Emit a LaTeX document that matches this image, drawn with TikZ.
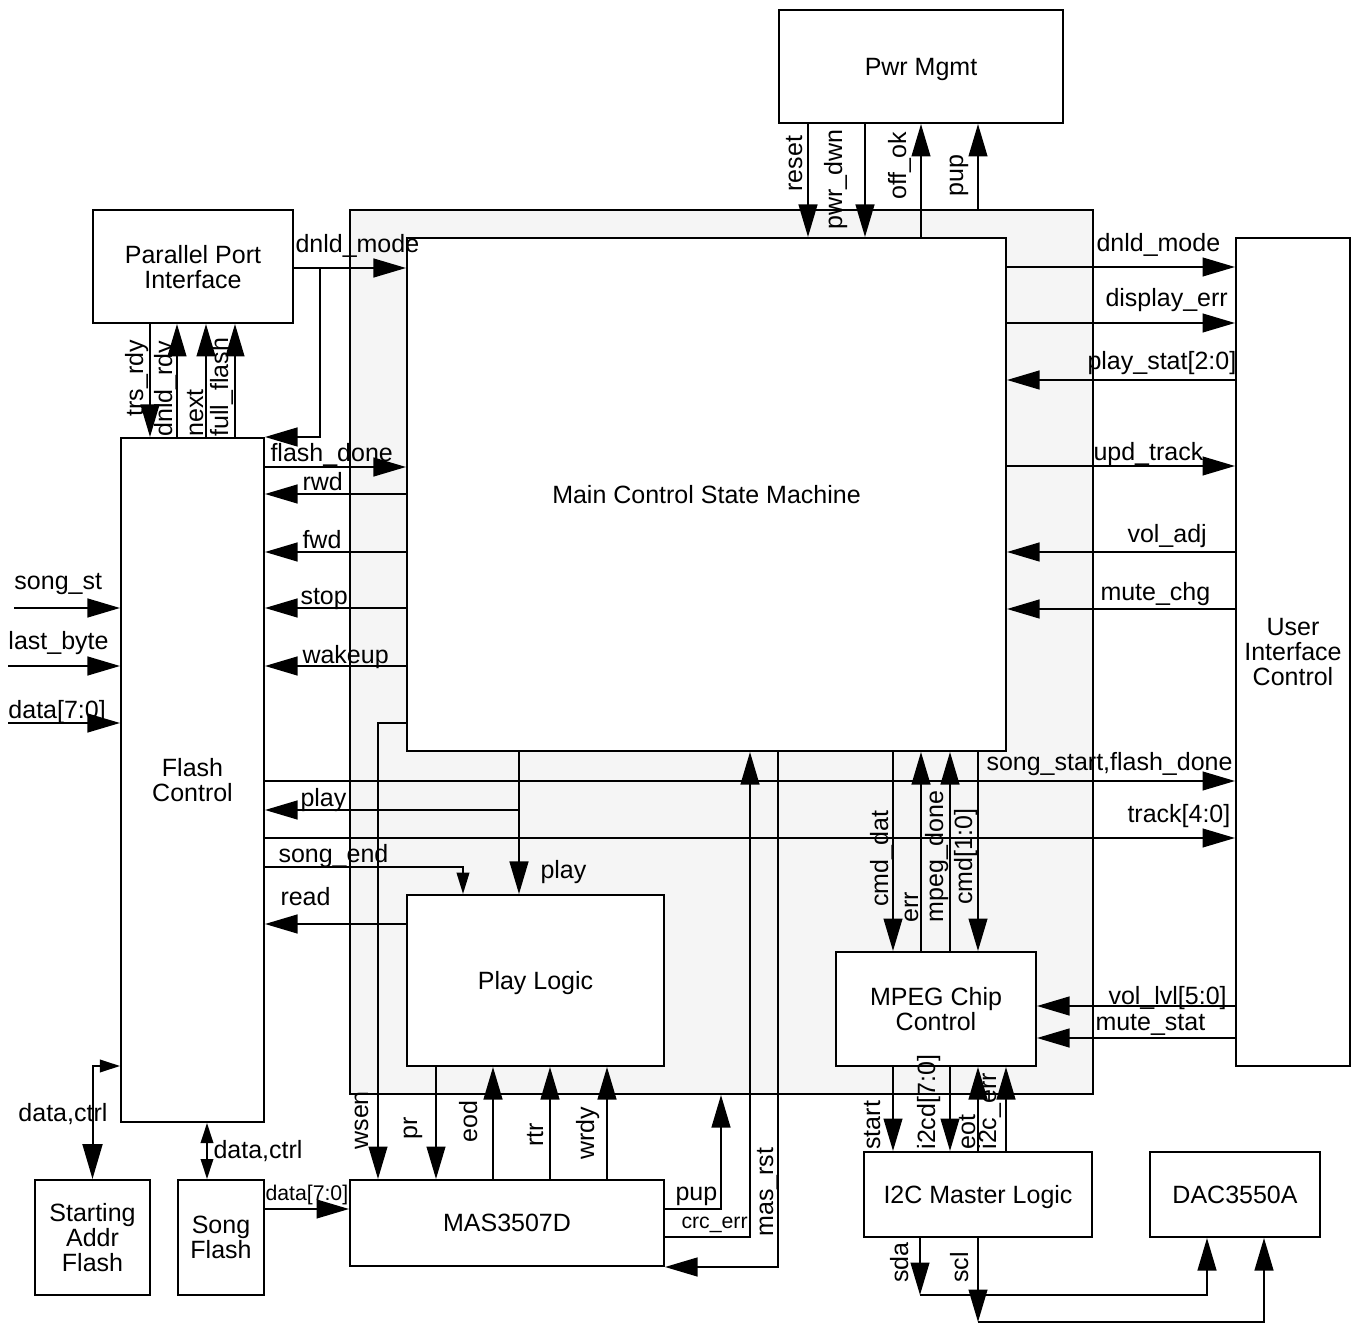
\documentclass[tikz,border=0pt]{standalone}
\usepackage{fontspec}
\setmainfont{Liberation Sans}
\usetikzlibrary{arrows.meta, calc}

\begin{document}
\begin{tikzpicture}[x=0.4pt, y=-0.4pt,
                    font=\fontsize{10pt}{10pt}\selectfont,
                    block/.style={draw, thick, fill=white, align=center, inner sep=0pt, text depth=0pt},
                    sig/.style={->, >={Triangle[length=13pt, width=7.5pt]}, thick},
                    small_sig/.style={->, >={Triangle[length=8.5pt, width=5pt]}, thick},
                    lbl/.style={inner sep=0pt, anchor=base west},
                    vlbl/.style={inner sep=0pt, anchor=base west, rotate=90},
                    small_lbl/.style={inner sep=0pt, anchor=base west, font=\fontsize{8.5pt}{8.5pt}\selectfont}]

            \useasboundingbox (0,0) rectangle (1354,1324);

            % blocks
            \node[block, fill=gray!8, minimum width=297.2pt, minimum height=353.6pt] (core) at (721.5,652) {};
            \node[block, minimum width=239.6pt, minimum height=205.2pt] (main) at (706.5,494.5) {Main Control State Machine};
            \node[block, minimum width=113.6pt, minimum height=45.2pt] (pwr) at (921,66.5) {Pwr Mgmt};
            \node[block, minimum width=80pt, minimum height=45.2pt] (ppi) at (193,266.5) {Parallel Port\\Interface};
            \node[block, minimum width=57.2pt, minimum height=273.6pt] (flash) at (192.5,780) {Flash\\Control};
            \node[block, minimum width=45.6pt, minimum height=331.2pt] (uic) at (1293,652) {User\\Interface\\Control};
            \node[block, minimum width=102.8pt, minimum height=68.4pt] (play) at (535.5,980.5) {Play Logic};
            \node[block, minimum width=80pt, minimum height=45.6pt] (mpeg) at (936,1009) {MPEG Chip\\Control};
            \node[block, minimum width=125.6pt, minimum height=34.4pt] (mas) at (507,1223) {MAS3507D};
            \node[block, minimum width=91.2pt, minimum height=34pt] (i2c) at (978,1194.5) {I2C Master Logic};
            \node[block, minimum width=68pt, minimum height=34pt] (dac) at (1235,1194.5) {DAC3550A};
            \node[block, minimum width=46pt, minimum height=46pt] (saf) at (92.5,1237.5) {Starting\\Addr\\Flash};
            \node[block, minimum width=34.4pt, minimum height=46pt] (sgf) at (221,1237.5) {Song\\Flash};

            \coordinate (brdnld) at (320,268);
            \coordinate (brplay) at (519,810);
            \coordinate (songst) at (14,608);
            \coordinate (lastbyte) at (8,666);
            \coordinate (datain) at (8,723);
            \coordinate (sdabus) at (920,1295);
            \coordinate (sclbus) at (978,1322);

            % power management
            \draw[sig] (pwr.south -| 808,0) -- (main.north -| 808,0);
            \draw[sig] (pwr.south -| 865,0) -- (main.north -| 865,0);
            \draw[sig] (main.north -| 921,0) -- (pwr.south -| 921,0);
            \draw[sig] (core.north -| 978,0) -- (pwr.south -| 978,0);

            % parallel port
            \draw[sig] (ppi.east |- brdnld) -- (main.west |- brdnld);
            \draw[sig] (brdnld) |- (flash.north east);
            \draw[sig] (ppi.south -| 150,0) -- (flash.north -| 150,0);
            \draw[sig] (flash.north -| 177,0) -- (ppi.south -| 177,0);
            \draw[sig] (flash.north -| 206,0) -- (ppi.south -| 206,0);
            \draw[sig] (flash.north -| 235,0) -- (ppi.south -| 235,0);

            % flash control <-> main
            \draw[sig] (flash.east |- 0,467) -- (main.west |- 0,467);
            \draw[sig] (main.west |- 0,494) -- (flash.east |- 0,494);
            \draw[sig] (main.west |- 0,552) -- (flash.east |- 0,552);
            \draw[sig] (main.west |- 0,608) -- (flash.east |- 0,608);
            \draw[sig] (main.west |- 0,666) -- (flash.east |- 0,666);
            \draw[sig] (songst) -- (flash.west |- songst);
            \draw[sig] (lastbyte) -- (flash.west |- lastbyte);
            \draw[sig] (datain) -- (flash.west |- datain);

            % play logic
            \draw[sig] (main.south -| brplay) -- (play.north -| brplay);
            \draw[sig] (brplay) -- (flash.east |- brplay);
            \draw[small_sig] (flash.east |- 0,867) -| (play.north -| 463,0);
            \draw[sig] (play.west |- 0,924) -- (flash.east |- 0,924);
            \draw[sig] (flash.east |- 0,781) -- (uic.west |- 0,781);
            \draw[sig] (flash.east |- 0,838) -- (uic.west |- 0,838);

            % MAS3507D
            \draw[sig] (main.west |- 0,723) -| (mas.north -| 378,0);
            \draw[sig] (play.south -| 436,0) -- (mas.north -| 436,0);
            \draw[sig] (mas.north -| 493,0) -- (play.south -| 493,0);
            \draw[sig] (mas.north -| 550,0) -- (play.south -| 550,0);
            \draw[sig] (mas.north -| 607,0) -- (play.south -| 607,0);
            \draw[sig] (mas.east |- 0,1209) -| (core.south -| 721,0);
            \draw[sig] (mas.east |- 0,1237) -| (main.south -| 750,0);
            \draw[sig] (main.south -| 778,0) |- (mas.south east);
            \draw[sig] (sgf.east |- 0,1209) -- (mas.west |- 0,1209);

            % flash memories
            \draw[thick, {Triangle[length=8pt, width=5pt]}-{Triangle[length=14pt, width=8pt]}] (flash.west |- 0,1066) -| (saf.north);
            \draw[thick, {Triangle[length=8pt, width=5pt]}-{Triangle[length=8pt, width=5pt]}] (flash.south -| 207,0) -- (sgf.north -| 207,0);

            % user interface
            \draw[sig] (main.east |- 0,267) -- (uic.west |- 0,267);
            \draw[sig] (main.east |- 0,323) -- (uic.west |- 0,323);
            \draw[sig] (uic.west |- 0,380) -- (main.east |- 0,380);
            \draw[sig] (main.east |- 0,466) -- (uic.west |- 0,466);
            \draw[sig] (uic.west |- 0,552) -- (main.east |- 0,552);
            \draw[sig] (uic.west |- 0,609) -- (main.east |- 0,609);

            % MPEG chip control
            \draw[sig] (main.south -| 893,0) -- (mpeg.north -| 893,0);
            \draw[sig] (mpeg.north -| 921,0) -- (main.south -| 921,0);
            \draw[sig] (mpeg.north -| 950,0) -- (main.south -| 950,0);
            \draw[sig] (main.south -| 978,0) -- (mpeg.north -| 978,0);
            \draw[sig] (uic.west |- 0,1006) -- (mpeg.east |- 0,1006);
            \draw[sig] (uic.west |- 0,1038) -- (mpeg.east |- 0,1038);

            % I2C
            \draw[sig] (mpeg.south -| 893,0) -- (i2c.north -| 893,0);
            \draw[sig] (mpeg.south -| 950,0) -- (i2c.north -| 950,0);
            \draw[sig] (i2c.north -| 978,0) -- (mpeg.south -| 978,0);
            \draw[sig] (i2c.north -| 1006,0) -- (mpeg.south -| 1006,0);
            \draw[sig] (i2c.south -| sdabus) -- (sdabus);
            \draw[sig] (sdabus) -| (dac.south -| 1207,0);
            \draw[sig] (i2c.south -| sclbus) -- (sclbus);
            \draw[sig] (sclbus) -| (dac.south -| 1264,0);

            % labels
            \node[vlbl] (lreset) at (802,192) {reset};
            \node[vlbl] (lpwrdwn) at (842,230) {pwr\_dwn};
            \node[vlbl] (loffok) at (906,200) {off\_ok};
            \node[vlbl] (lpup) at (963,197) {pup};

            \node[vlbl] (ltrsrdy) at (143,417) {trs\_rdy};
            \node[vlbl] (ldnldrdy) at (172,437) {dnld\_rdy};
            \node[vlbl] (lnext) at (203,437) {next};
            \node[vlbl] (lfull) at (228,437) {full\_flash};

            \node[lbl] (ldnld) at (295,253) {dnld\_mode};
            \node[lbl] (lfdone) at (270,462) {flash\_done};
            \node[lbl] (lrwd) at (302,491) {rwd};
            \node[lbl] (lfwd) at (302,549) {fwd};
            \node[lbl] (lstop) at (300,605) {stop};
            \node[lbl] (lwake) at (302,663) {wakeup};
            \node[lbl] (lsongst) at (14,590) {song\_st};
            \node[lbl] (llast) at (8,650) {last\_byte};
            \node[lbl] (ldata) at (8,719) {data[7:0]};

            \node[lbl] (lplayf) at (300,806) {play};
            \node[lbl] (lsend) at (278,862) {song\_end};
            \node[lbl] (lread) at (280,905) {read};
            \node[lbl] (lplay) at (540,878) {play};
            \node[lbl] (lssfd) at (986,771) {song\_start,flash\_done};
            \node[lbl] (ltrack) at (1127,822) {track[4:0]};

            \node[lbl] (ldnldu) at (1096,252) {dnld\_mode};
            \node[lbl] (ldisp) at (1105,307) {display\_err};
            \node[lbl] (lpstat) at (1087,370) {play\_stat[2:0]};
            \node[lbl] (lupd) at (1093,461) {upd\_track};
            \node[lbl] (lvol) at (1127,543) {vol\_adj};
            \node[lbl] (lmute) at (1100,601) {mute\_chg};

            \node[vlbl] (lwsen) at (368,1150) {wsen};
            \node[vlbl] (lpr) at (417,1140) {pr};
            \node[vlbl] (leod) at (477,1143) {eod};
            \node[vlbl] (lrtr) at (543,1147) {rtr};
            \node[vlbl] (lwrdy) at (594,1160) {wrdy};
            \node[vlbl] (lmrst) at (773,1237) {mas\_rst};
            \node[lbl] (lpupm) at (675,1200) {pup};
            \node[small_lbl] (lcrc) at (681,1228) {crc\_err};
            \node[small_lbl] (ldsong) at (265,1200) {data[7:0]};
            \node[lbl] (ldc1) at (18,1121) {data,ctrl};
            \node[lbl] (ldc2) at (213,1158) {data,ctrl};

            \node[vlbl] (lcdat) at (888,907) {cmd\_dat};
            \node[vlbl] (lerr) at (918,923) {err};
            \node[vlbl] (lmdone) at (943,923) {mpeg\_done};
            \node[vlbl] (lcmd) at (972,905) {cmd[1:0]};
            \node[lbl] (lvlvl) at (1108,1004) {vol\_lvl[5:0]};
            \node[lbl] (lmstat) at (1095,1030) {mute\_stat};

            \node[vlbl] (lstart) at (880,1150) {start};
            \node[vlbl] (li2cd) at (935,1150) {i2cd[7:0]};
            \node[vlbl] (leot) at (975,1150) {eot};
            \node[vlbl] (li2ce) at (996,1150) {i2c\_err};
            \node[vlbl] (lsda) at (908,1283) {sda};
            \node[vlbl] (lscl) at (968,1283) {scl};
        \end{tikzpicture}
\end{document}
